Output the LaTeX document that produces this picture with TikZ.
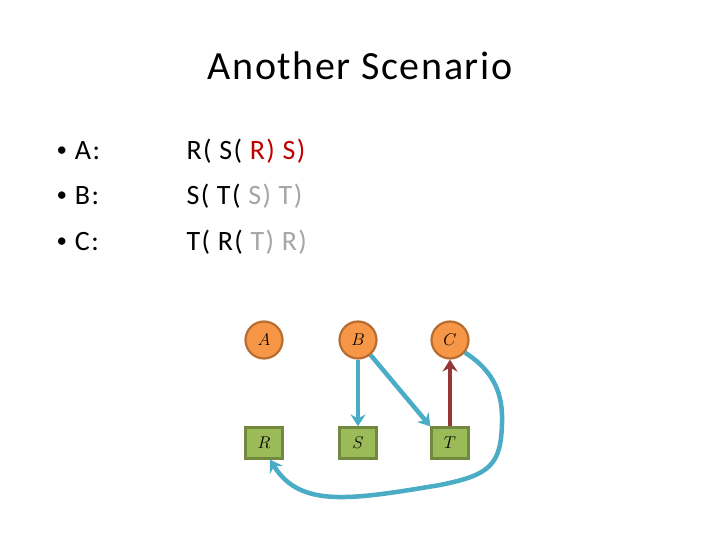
\documentclass[tikz,border=0pt]{standalone}
\usepackage{fix-cm}
\usepackage{fontspec}
\setmainfont{Carlito}
\usetikzlibrary{arrows.meta, positioning}
\definecolor{bulbfill}{HTML}{F79646}
\definecolor{bulbedge}{HTML}{B66D31}
\definecolor{boxfill}{HTML}{9BBB59}
\definecolor{boxedge}{HTML}{71893F}
\definecolor{linkteal}{HTML}{4BACC6}
\definecolor{linkred}{HTML}{953735}
\definecolor{lockred}{HTML}{C00000}
\definecolor{lockgrey}{HTML}{A6A6A6}
\newcommand{\dotmark}{\raisebox{3pt}{\fontsize{21}{21}\selectfont\textbullet}\hspace{8pt}}

\tikzset{
  proc/.style={circle, draw=bulbedge, fill=bulbfill, line width=2.2pt,
    minimum size=37pt, inner sep=0pt, font=\fontsize{17}{20}\selectfont},
  res/.style={rectangle, draw=boxedge, fill=boxfill, line width=2.2pt,
    minimum width=37pt, minimum height=31pt, inner sep=0pt, font=\fontsize{17}{20}\selectfont},
  req/.style={linkteal, line width=4.5pt, -{Stealth[length=12pt, width=15pt, inset=4pt]}},
  hold/.style={linkred, line width=4.5pt, -{Stealth[length=12pt, width=15pt, inset=4pt]}},
  line/.style={anchor=base west, font=\fontsize{28}{32}\selectfont\addfontfeatures{LetterSpace=5}}
}

\begin{document}
\begin{tikzpicture}[x=1pt, y=1pt]
    \fill[white] (0,0) rectangle (720,540);
    \node[anchor=base, font=\fontsize{40}{46}\selectfont\addfontfeatures{LetterSpace=4}] (title) at (360,460) {Another Scenario};
    % who locks what
    \node[line] (ia) at (53,380) {\dotmark A:};
    \node[line] (ib) at (53,335) {\dotmark B:};
    \node[line] (ic) at (53,289) {\dotmark C:};
    \node[line] (la) at (183,380) {R( S( \textcolor{lockred}{R) S)}};
    \node[line] (lb) at (183,335) {S( T( \textcolor{lockgrey}{S) T)}};
    \node[line] (lc) at (183,289) {T( R( \textcolor{lockgrey}{T) R)}};
    % graph
    \node[proc] (A) at (264,200) {$A$};
    \node[proc] (B) at (358,200) {$B$};
    \node[proc] (C) at (450,200) {$C$};
    \node[res] (R) at (264,97) {$R$};
    \node[res] (S) at (358,97) {$S$};
    \node[res] (T) at (450,97) {$T$};
    \draw[req] (B) -- (S);
    \draw[req] (B) -- (T.north west);
    \draw[hold] (T) -- (C);
    \draw[req] (C.-40) .. controls (495,168) and (503,145) .. (502,117)
      .. controls (501,75) and (490,65) .. (440,55)
      .. controls (350,40) and (300,32) .. ([xshift=6pt]R.south);
\end{tikzpicture}
\end{document}
